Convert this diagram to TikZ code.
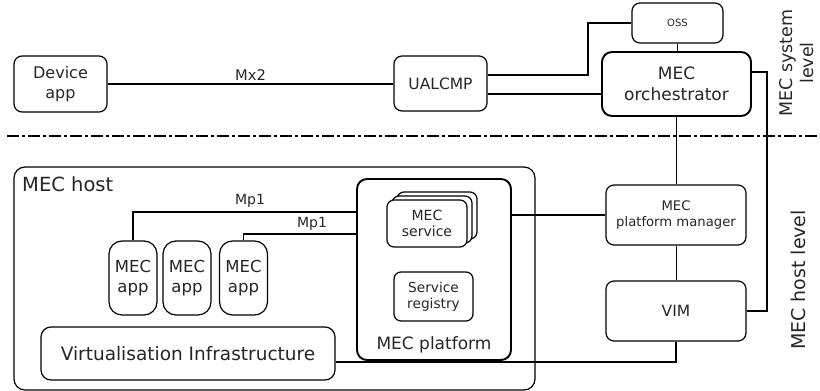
\documentclass[tikz,border=0pt]{standalone}
\usepackage{fontspec}
\setmainfont{DejaVu Sans}
\newcommand{\fsz}[1]{\fontsize{#1}{1.2\dimexpr #1pt\relax}\selectfont}
\begin{document}
\begin{tikzpicture}[x=1pt,y=-1pt,
  box/.style={draw, line width=1.2pt, rounded corners=8pt, fill=white, align=center, inner sep=0pt, text=black!85},
  thickbox/.style={box, line width=1.9pt, rounded corners=10pt},
  conn/.style={line width=1.2pt},
  thinconn/.style={line width=0.7pt},
  lbl/.style={inner sep=0pt, text=black!85}
]
\useasboundingbox (0,0) rectangle (820,391);
% top level
\node[box, minimum width=93pt, minimum height=56pt, font=\fsz{16}] (dev) at (60.5,84) {Device\\app};
\node[box, minimum width=93pt, minimum height=55pt, font=\fsz{15.5}] (ual) at (440.5,83.5) {UALCMP};
\node[box, minimum width=91pt, minimum height=40pt, font=\fsz{10}] (oss) at (677.5,23) {OSS};
\node[thickbox, minimum width=149pt, minimum height=64pt, font=\fsz{17}] (orch) at (676.5,84) {MEC\\orchestrator};
% host
\node[box, rounded corners=11pt, minimum width=521pt, minimum height=223pt] (host) at (274.5,278.5) {};
\node[lbl, anchor=west, font=\fsz{19.5}] (hostlbl) at (22,184) {MEC host};
\node[thickbox, minimum width=154pt, minimum height=181pt] (plat) at (434,269.5) {};
\node[lbl, font=\fsz{17}] (platlbl) at (434,345) {MEC platform};
\node[box, rounded corners=7pt, minimum width=80pt, minimum height=47pt] (svc3) at (437,215.5) {};
\node[box, rounded corners=7pt, minimum width=80pt, minimum height=47pt] (svc2) at (432,219.5) {};
\node[box, rounded corners=7pt, minimum width=80pt, minimum height=47pt, font=\fsz{14}] (svc) at (427,223.5) {MEC\\service};
\node[box, rounded corners=7pt, minimum width=79pt, minimum height=49pt, font=\fsz{13.7}] (reg) at (433.5,296.5) {Service\\registry};
\node[box, rounded corners=13pt, minimum width=48pt, minimum height=74pt, font=\fsz{16.5}] (app1) at (133,278) {MEC\\app};
\node[box, rounded corners=13pt, minimum width=48pt, minimum height=74pt, font=\fsz{16.5}] (app2) at (187,278) {MEC\\app};
\node[box, rounded corners=13pt, minimum width=48pt, minimum height=74pt, font=\fsz{16.5}] (app3) at (243.5,278) {MEC\\app};
\node[box, rounded corners=10pt, minimum width=294pt, minimum height=53pt, font=\fsz{18.5}] (vi) at (188,353.5) {Virtualisation Infrastructure};
\node[box, minimum width=140pt, minimum height=60pt, font=\fsz{13.2}] (mgr) at (676,215) {MEC\\platform manager};
\node[box, minimum width=140pt, minimum height=60pt, font=\fsz{15.5}] (vim) at (676,311) {VIM};
% level separator
\coordinate (dl) at (7,136);
\coordinate (dr) at (820,136);
\draw[line width=1.2pt, dash pattern=on 12pt off 3pt on 3pt off 3pt] (dl) -- (dr);
\node[lbl, rotate=90, align=center, font=\fsz{17.5}] (syslvl) at (797,63) {MEC system\\level};
\node[lbl, rotate=90, font=\fsz{19}] (hostlvl) at (798,280) {MEC host level};
% connectors
\draw[conn] (dev.east) -- (ual.west |- dev.east) node[midway, above=3pt, lbl, font=\fsz{14.7}] (mx2) {Mx2};
\draw[conn] ([yshift=8.5pt]ual.east) -- (588,75) |- (oss.west);
\draw[conn] ([yshift=-10.5pt]ual.east) -- ([yshift=-10.5pt]ual.east -| orch.west);
\draw[conn] (oss.south) -- (oss.south |- orch.north);
\draw[conn] ([yshift=12pt]orch.east) -- (767,72) |- (vim.east);
\draw[conn] (orch.south) -- (orch.south |- mgr.north);
\draw[thinconn] (mgr.south) -- (vim.north);
\draw[conn] (plat.east |- mgr.west) -- (mgr.west);
\draw[conn] (vim.south) |- ([yshift=-8.5pt]vi.east);
\draw[conn] (app1.north) |- (plat.west |- 0,212);
\draw[conn] (app3.north) |- (plat.west |- 0,234);
\node[lbl, font=\fsz{14}] (mp1a) at (250,201) {Mp1};
\node[lbl, font=\fsz{14}] (mp1b) at (312,224) {Mp1};
\end{tikzpicture}
\end{document}
